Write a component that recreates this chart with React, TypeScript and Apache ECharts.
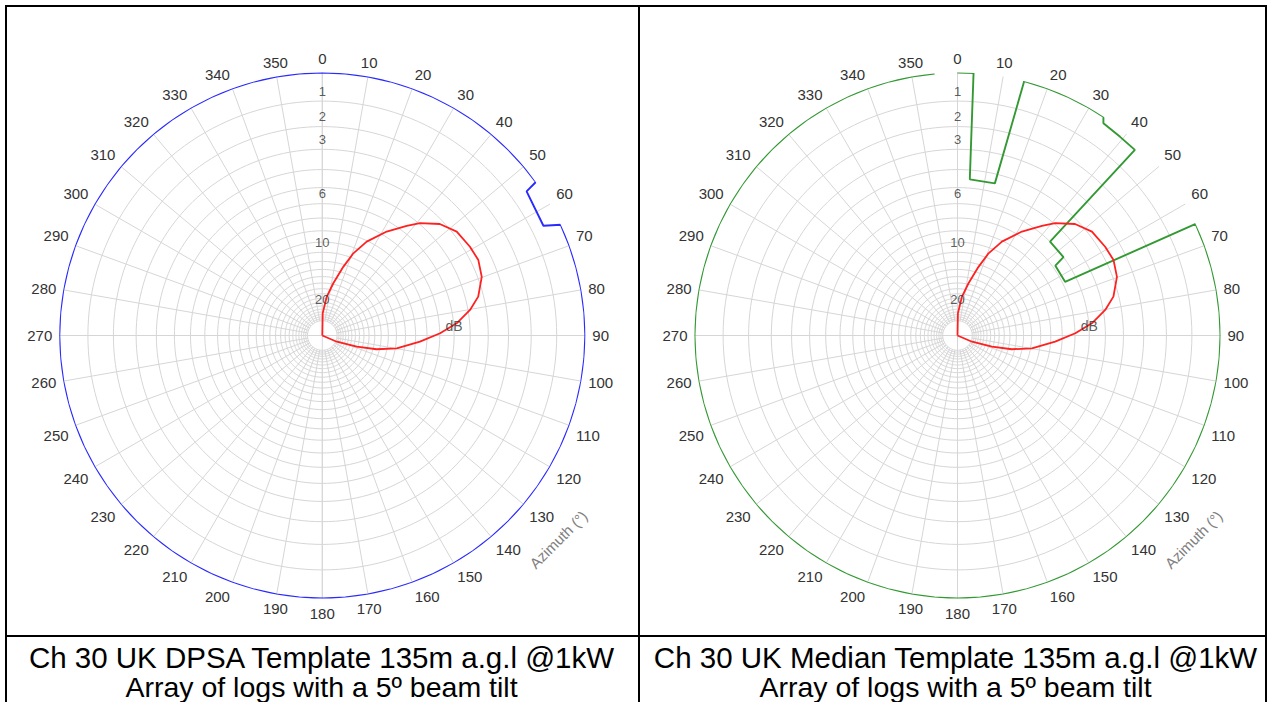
import React, { useEffect, useRef } from "react";
import * as echarts from "echarts";

// ---------- data ----------
const dbLabels = [1, 2, 3, 6, 10, 20];
const ringDb = [1, 2, 3, 4, 5, 6, 7, 8, 9, 10, 11, 12, 13, 14, 15, 16, 17, 18, 19, 20, 21, 22, 23, 24, 25];

// antenna pattern (relative field, linear radius)
const patternAz = [0, 1, 6.5, 11.9, 17, 20.7, 25.3, 31.8, 37.6, 41, 46.5, 52.3, 59, 64.2, 69.8, 76, 80.2, 84.8, 88.9, 93.6, 99.8, 104.2, 108, 113.3, 120];
const patternField = [0, 0.084, 0.148, 0.203, 0.273, 0.334, 0.395, 0.465, 0.526, 0.566, 0.616, 0.646, 0.655, 0.659, 0.646, 0.611, 0.57, 0.513, 0.448, 0.372, 0.287, 0.213, 0.138, 0.06, 0];

// DPSA template (dB below max)
const dpsaAz = [0, 5, 10, 15, 20, 25, 30, 35, 40, 45, 50, 54.3, 54.8, 63.6, 65.1, 70, 75, 80, 85, 90, 95, 100, 105, 110, 115, 120, 125, 130, 135, 140, 145, 150, 155, 160, 165, 170, 175, 180, 185, 190, 195, 200, 205, 210, 215, 220, 225, 230, 235, 240, 245, 250, 255, 260, 265, 270, 275, 280, 285, 290, 295, 300, 305, 310, 315, 320, 325, 330, 335, 340, 345, 350, 355, 360];
const dpsaDb = [0, 0, 0, 0, 0, 0, 0, 0, 0, 0, 0, 0, 0.44, 0.55, 0, 0, 0, 0, 0, 0, 0, 0, 0, 0, 0, 0, 0, 0, 0, 0, 0, 0, 0, 0, 0, 0, 0, 0, 0, 0, 0, 0, 0, 0, 0, 0, 0, 0, 0, 0, 0, 0, 0, 0, 0, 0, 0, 0, 0, 0, 0, 0, 0, 0, 0, 0, 0, 0, 0, 0, 0, 0, 0, 0];

// Median template (dB below max)
const medianAz = [0, 3.5, 4.5, 13.8, 14.7, 20, 25, 30, 33.7, 34.5, 39.3, 43.7, 44.6, 53.5, 54.5, 63.5, 64.9, 70, 75, 80, 85, 90, 95, 100, 105, 110, 115, 120, 125, 130, 135, 140, 145, 150, 155, 160, 165, 170, 175, 180, 185, 190, 195, 200, 205, 210, 215, 220, 225, 230, 235, 240, 245, 250, 255, 260, 265, 270, 275, 280, 285, 290, 295, 300, 305, 310, 315, 320, 325, 330, 335, 340, 345, 350, 355, 360];
const medianDb = [0, 0, 4.5, 4.5, 0, 0, 0, 0, 0, 0.18, 0.21, 0.21, 6.0, 6.0, 6.8, 6.8, 0, 0, 0, 0, 0, 0, 0, 0, 0, 0, 0, 0, 0, 0, 0, 0, 0, 0, 0, 0, 0, 0, 0, 0, 0, 0, 0, 0, 0, 0, 0, 0, 0, 0, 0, 0, 0, 0, 0, 0, 0, 0, 0, 0, 0, 0, 0, 0, 0, 0, 0, 0, 0, 0, 0, 0, 0, 0, 0];

const captionLeft = ["Ch 30 UK DPSA Template 135m a.g.l @1kW", "Array of logs with a 5º beam tilt"];
const captionRight = ["Ch 30 UK Median Template 135m a.g.l @1kW", "Array of logs with a 5º beam tilt"];
const radiusName = "dB";
const azimuthName = "Azimuth (°)";

// ---------- styling / layout ----------
const W = 1271;
const H = 702;
const OUTER_R = 263;
const CENTERS = [
  [322.3, 335.5],
  [957.5, 335.5],
];
const GRID = "#d6d6d6";
const LABEL = "#333333";
const FONT = "'Liberation Sans', Arial, sans-serif";

const field = (db: number) => Math.pow(10, -db / 20);
const ringAngles: number[] = [];
for (let a = 0; a <= 360; a += 2) ringAngles.push(a);

function panelSeries(polarIndex: number, tplAz: number[], tplDb: number[], tplColor: string) {
  const s: any[] = [];
  ringDb.forEach((d) => {
    s.push({
      type: "line",
      coordinateSystem: "polar",
      polarIndex,
      data: ringAngles.map((a) => [field(d), a]),
      symbol: "none",
      silent: true,
      lineStyle: { color: GRID, width: 1 },
      z: 1,
    });
  });
  s.push({
    type: "scatter",
    coordinateSystem: "polar",
    polarIndex,
    symbolSize: 1,
    itemStyle: { color: "rgba(0,0,0,0)" },
    silent: true,
    z: 6,
    data: dbLabels.map((d) => ({ value: [field(d), 0], name: String(d) })),
    label: {
      show: true,
      position: "top",
      distance: 3,
      formatter: "{b}",
      color: LABEL,
      fontSize: 13,
      fontFamily: FONT,
    },
  });
  s.push({
    type: "scatter",
    coordinateSystem: "polar",
    polarIndex,
    symbolSize: 1,
    itemStyle: { color: "rgba(0,0,0,0)" },
    silent: true,
    z: 6,
    data: [{ value: [field(6), 90], name: radiusName }],
    label: {
      show: true,
      position: "top",
      distance: 2,
      formatter: "{b}",
      color: LABEL,
      fontSize: 14,
      fontFamily: FONT,
    },
  });
  s.push({
    type: "line",
    coordinateSystem: "polar",
    polarIndex,
    data: tplAz.map((a, i) => [field(tplDb[i]), a]),
    symbol: "none",
    silent: true,
    clip: false,
    lineStyle: { color: tplColor, width: 1.9 },
    z: 4,
  });
  s.push({
    type: "line",
    coordinateSystem: "polar",
    polarIndex,
    data: patternAz.map((a, i) => [patternField[i], a]),
    symbol: "none",
    silent: true,
    lineStyle: { color: "#ff2020", width: 1.8 },
    z: 5,
  });
  return s;
}

export default function App() {
  const ref = useRef<HTMLDivElement>(null);
  useEffect(() => {
    if (!ref.current) return;
    const chart = echarts.init(ref.current, null, { renderer: "svg", width: W, height: H });
    const innerR = OUTER_R * field(ringDb[ringDb.length - 1]);
    const polar: any[] = [];
    const angleAxis: any[] = [];
    const radiusAxis: any[] = [];
    CENTERS.forEach((c, k) => {
      polar.push({ center: c, radius: [innerR, OUTER_R] });
      polar.push({ center: c, radius: [0, OUTER_R] });
      angleAxis.push({
        polarIndex: 2 * k,
        type: "value",
        min: 0,
        max: 360,
        interval: 10,
        startAngle: 90,
        clockwise: true,
        axisLine: { show: false },
        axisTick: { show: false },
        axisLabel: {
          show: true,
          margin: 7,
          color: LABEL,
          fontSize: 15,
          fontFamily: FONT,
          formatter: (v: number) => (v >= 360 ? "" : String(v)),
        },
        splitLine: { show: true, lineStyle: { color: GRID, width: 1 } },
      });
      angleAxis.push({
        polarIndex: 2 * k + 1,
        type: "value",
        min: 0,
        max: 360,
        interval: 90,
        startAngle: 90,
        clockwise: true,
        axisLine: { show: false },
        axisTick: { show: false },
        axisLabel: { show: false },
        splitLine: { show: true, lineStyle: { color: GRID, width: 1 } },
      });
      [2 * k, 2 * k + 1].forEach((pi) =>
        radiusAxis.push({
          polarIndex: pi,
          type: "value",
          min: 0,
          max: 1,
          axisLine: { show: false },
          axisTick: { show: false },
          axisLabel: { show: false },
          splitLine: { show: false },
        })
      );
    });

    const series = [
      ...panelSeries(1, dpsaAz, dpsaDb, "#2a2aff"),
      ...panelSeries(3, medianAz, medianDb, "#339933"),
    ];

    const lineStyle = { stroke: "#000", lineWidth: 2 };
    const graphic: any[] = [
      { type: "line", shape: { x1: 5, y1: 6, x2: 1267, y2: 6 }, style: lineStyle, z: 100 },
      { type: "line", shape: { x1: 6, y1: 5, x2: 6, y2: H }, style: lineStyle, z: 100 },
      { type: "line", shape: { x1: 639, y1: 5, x2: 639, y2: H }, style: lineStyle, z: 100 },
      { type: "line", shape: { x1: 1266, y1: 5, x2: 1266, y2: H }, style: lineStyle, z: 100 },
      { type: "line", shape: { x1: 5, y1: 636, x2: 1267, y2: 636 }, style: lineStyle, z: 100 },
    ];
    const capX = [321.5, 955.5];
    [captionLeft, captionRight].forEach((cap, k) => {
      cap.forEach((t, j) => {
        graphic.push({
          type: "text",
          x: capX[k],
          y: j === 0 ? 657 : 686.5,
          z: 100,
          style: {
            text: t,
            fill: "#000",
            font: `${j === 0 ? 29.5 : 28.5}px ${FONT}`,
            lineHeight: 27,
            align: "center",
            verticalAlign: "middle",
          },
        });
      });
    });
    CENTERS.forEach((c) => {
      graphic.push({
        type: "text",
        x: c[0] + 236,
        y: c[1] + 204,
        rotation: Math.PI / 4,
        z: 100,
        style: {
          text: azimuthName,
          fill: "#808080",
          font: `15px ${FONT}`,
          align: "center",
          verticalAlign: "middle",
        },
      });
    });

    chart.setOption({
      animation: false,
      backgroundColor: "#ffffff",
      polar,
      angleAxis,
      radiusAxis,
      series,
      graphic,
    });
    return () => chart.dispose();
  }, []);
  return (
    <div
      ref={ref}
      style={{ position: "absolute", left: 0, top: 0, width: W, height: H }}
    />
  );
}
